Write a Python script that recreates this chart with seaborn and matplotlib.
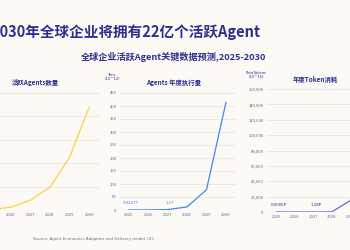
import numpy as np
import pandas as pd
import matplotlib
matplotlib.use("Agg")
import matplotlib.pyplot as plt
import seaborn as sns

# data
years = [2025, 2026, 2027, 2028, 2029, 2030]
active_agents = [0.1, 0.6, 2.1, 4.9, 11.3, 22.0]        # 亿
agent_exec_tera = [0.0447, 0.3, 1.5, 12, 78, 415]        # Tera
token_peta = [0.0005, 0.05, 1.28, 150, 15000, 150000]    # PetaTokens
exec_notes = ["0.0447T", "", "1.5T", "", "", ""]
token_notes = ["0.0005P", "", "1.28P", "", "", ""]

W, H = 350, 250
BG = "#fdfaf6"
NAVY = "#2b2f8f"
TICK = "#5b5ea6"
GRID = "#ebe9e6"

sns.set_style("white")
plt.rcParams["font.family"] = ["Noto Sans CJK SC", "DejaVu Sans"]


def fx(px):
    return px / W


def fy(py):
    return 1 - py / H


def add_axes(left, right, top, bottom):
    return fig.add_axes([fx(left), fy(bottom), fx(right) - fx(left), fy(top) - fy(bottom)])


def style(ax, yticks, fmt):
    ax.set_facecolor(BG)
    for s in ax.spines.values():
        s.set_visible(False)
    ax.set_yticks(yticks)
    ax.set_yticklabels([fmt(v) for v in yticks])
    ax.set_xticks(years)
    ax.grid(axis="y", color=GRID, linewidth=0.7)
    ax.grid(axis="x", visible=False)
    ax.tick_params(length=0, labelsize=3.0, colors=TICK, pad=2.5)
    ax.set_xlabel("")
    ax.set_ylabel("")


fig = plt.figure(figsize=(3.5, 2.5), dpi=100, facecolor=BG)

fig.text(fx(-8.5), fy(32), "2030年全球企业将拥有22亿个活跃Agent", fontsize=10.5,
         fontweight="bold", color=NAVY, ha="left", va="center")
fig.text(fx(174), fy(57), "全球企业活跃Agent关键数据预测,2025-2030", fontsize=6.6,
         fontweight="bold", color=NAVY, ha="center", va="center")

# left panel: active agents (its y labels and 2025 fall outside the crop)
ax1 = add_axes(-19.5, 100, 93, 210)
df1 = pd.DataFrame({"year": years, "v": active_agents})
sns.lineplot(data=df1, x="year", y="v", ax=ax1, color="#fbd144", linewidth=0.9)
ax1.set_xlim(2024.45, 2030.55)
ax1.set_ylim(0, 25)
style(ax1, [0, 5, 10, 15, 20, 25], lambda v: "")
ax1.set_xticklabels([""] + [str(y) for y in years[1:]])
fig.text(fx(35), fy(82), "活跃Agents数量", fontsize=4.6, fontweight="bold",
         color=NAVY, ha="center", va="center")

# middle panel: annual executions
ax2 = add_axes(120, 235, 93, 210)
df2 = pd.DataFrame({"year": years, "v": agent_exec_tera})
sns.lineplot(data=df2, x="year", y="v", ax=ax2, color="#3f86f5", linewidth=0.9)
ax2.set_xlim(2025 - 8.5 / 19.5, 2030 + 9 / 19.5)
ax2.set_ylim(0, 450)
style(ax2, list(range(0, 451, 50)), lambda v: f"{v}")
for x, v, t in zip(years, agent_exec_tera, exec_notes):
    if t:
        ax2.annotate(t, (x, v), xytext=(2, 3.5), textcoords="offset points",
                     fontsize=2.9, color="#3f86f5", ha="center", va="bottom",
                     family="DejaVu Sans")
fig.text(fx(173.5), fy(82), "Agents 年度执行量", fontsize=4.6, fontweight="bold",
         color=NAVY, ha="center", va="center")
fig.text(fx(112), fy(77), "Tera\n(10^12)", fontsize=2.7, color=NAVY,
         ha="center", va="center", linespacing=1.1, family="DejaVu Sans")

# right panel: token consumption
ax3 = add_axes(267, 378, 89, 212)
df3 = pd.DataFrame({"year": years, "v": token_peta})
sns.lineplot(data=df3, x="year", y="v", ax=ax3, color="#6c6ad8", linewidth=0.9)
ax3.set_xlim(2025 - 9 / 18.5, 2030 + 9 / 18.5)
ax3.set_ylim(0, 160000)
style(ax3, list(range(0, 160001, 20000)), lambda v: f"{v:,}")
ax3.set_xticklabels([str(y) for y in years[:5]] + [""])
for x, v, t in zip(years, token_peta, token_notes):
    if t:
        ax3.annotate(t, (x, v), xytext=(2, 3.5), textcoords="offset points",
                     fontsize=2.9, color=NAVY, ha="center", va="bottom",
                     family="DejaVu Sans")
fig.text(fx(315), fy(79), "年度Token消耗", fontsize=4.6, fontweight="bold",
         color=NAVY, ha="center", va="center")
fig.text(fx(256), fy(75), "PetaTokens\n(10^15)", fontsize=2.7, color=NAVY,
         ha="center", va="center", linespacing=1.1, family="DejaVu Sans")

fig.text(fx(33), fy(239), "Source: Agent Economics Adoption and Delivery model, IDC",
         fontsize=2.9, color="#6b6b7b", ha="left", va="center", family="DejaVu Sans")

fig.savefig("out.png", dpi=100, facecolor=BG)
